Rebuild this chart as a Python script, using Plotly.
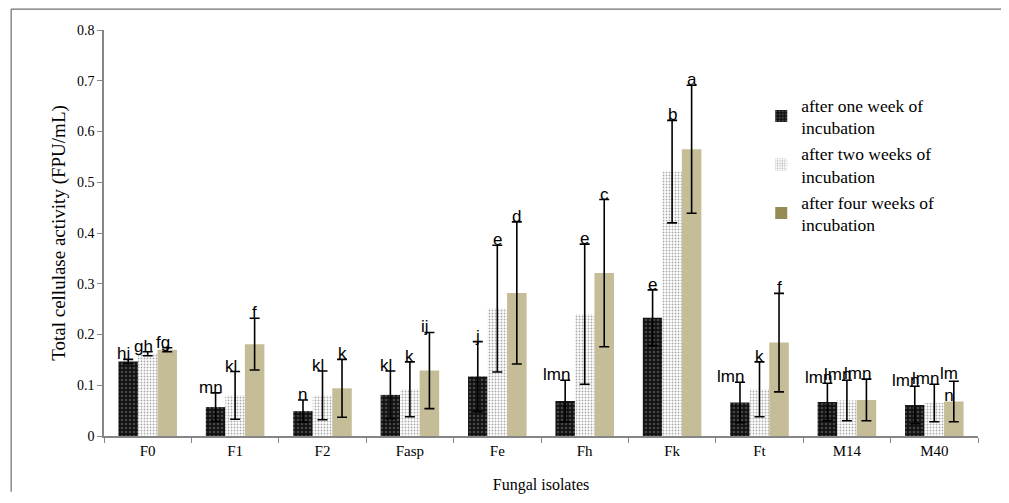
import plotly.graph_objects as go

categories = ["F0", "F1", "F2", "Fasp", "Fe", "Fh", "Fk", "Ft", "M14", "M40"]
series_names = ["after one week of<br>incubation", "after two weeks of<br>incubation", "after four weeks of<br>incubation"]

week1 = [0.147, 0.057, 0.049, 0.081, 0.117, 0.069, 0.233, 0.066, 0.067, 0.061]
week1_err = [0.004, 0.028, 0.022, 0.047, 0.069, 0.041, 0.055, 0.040, 0.037, 0.037]
week1_lbl = ["hi", "mn", "n", "kl", "j", "lmn", "e", "lmn", "lmn", "lmn"]

week2 = [0.162, 0.080, 0.080, 0.092, 0.251, 0.240, 0.521, 0.092, 0.070, 0.065]
week2_err = [0.004, 0.047, 0.048, 0.054, 0.125, 0.138, 0.101, 0.054, 0.040, 0.037]
week2_lbl = ["gh", "kl", "kl", "k", "e", "e", "b", "k", "lmn", "lmn"]

week4 = [0.170, 0.181, 0.094, 0.129, 0.282, 0.321, 0.565, 0.184, 0.071, 0.068]
week4_err = [0.004, 0.051, 0.057, 0.075, 0.140, 0.145, 0.126, 0.097, 0.041, 0.040]
week4_lbl = ["fg", "f", "k", "ij", "d", "c", "a", "f", "lmn", "lm<br>n"]

SERIF = "Liberation Serif, Times New Roman, serif"
SANS = "Liberation Sans, Arial, sans-serif"

patterns = [
    dict(shape=".", bgcolor="#111111", fgcolor="#7a7a7a", size=4, solidity=0.35),
    dict(shape=".", bgcolor="#ffffff", fgcolor="#555555", size=3, solidity=0.3),
    None,
]
colors = ["#111111", "#ffffff", "#C4BD97"]
legend_colors = ["#111111", "#ffffff", "#948A54"]

fig = go.Figure()
data = [(week1, week1_err), (week2, week2_err), (week4, week4_err)]
for i, (vals, errs) in enumerate(data):
    marker = dict(color=colors[i], line=dict(width=0))
    if patterns[i]:
        marker["pattern"] = patterns[i]
    fig.add_trace(go.Bar(
        x=categories, y=vals, name=series_names[i], marker=marker,
        showlegend=False, offsetgroup=str(i),
        error_y=dict(type="data", array=errs, visible=True, color="#000000", thickness=1.6, width=5),
    ))

for i in range(3):
    marker = dict(color=legend_colors[i], line=dict(width=0))
    if patterns[i]:
        marker["pattern"] = patterns[i]
    fig.add_trace(go.Bar(x=[categories[0]], y=[None], name=series_names[i], marker=marker,
                         showlegend=True, offsetgroup=str(i)))

# letter labels above error bars
bargap = 0.33
group_w = 1 - bargap
bar_w = group_w / 3
for i, (vals, errs) in enumerate(data):
    lbls = [week1_lbl, week2_lbl, week4_lbl][i]
    for j, cat in enumerate(categories):
        xoff = -group_w / 2 + bar_w * (i + 0.5)
        lab = lbls[j]
        n = len(lab.split("<br>")[0])
        fig.add_annotation(
            x=j + xoff, y=vals[j] + errs[j], xref="x", yref="y",
            text=lab, showarrow=False, xanchor="center", yanchor="bottom",
            xshift=-(n - 1) * 4.5, yshift=-6 if "<br>" not in lab else -26,
            font=dict(family=SANS, size=17, color="#000000"),
        )

# outer frame (three edges; bottom edge runs off the page)
fx0, fx1 = (12 - 104) / 866, (1003 - 104) / 866
fy0, fy1 = (438 - 494) / 408, (438 - 9) / 408
frame_line = dict(color="#6f6f6f", width=1.2)
for (ax0, ay0, ax1, ay1) in [(fx0, fy1, fx1, fy1), (fx0, fy0, fx0, fy1), (fx1, fy0, fx1, fy1)]:
    fig.add_shape(type="line", xref="paper", yref="paper",
                  x0=ax0, y0=ay0, x1=ax1, y1=ay1, line=frame_line, layer="above")

# page body has an 8px margin, so the figure is sized/offset to compensate
fig.update_layout(
    width=1001, height=495,
    margin=dict(l=96, r=31, t=22, b=57),
    paper_bgcolor="white", plot_bgcolor="white",
    barmode="group", bargap=bargap, bargroupgap=0,
    font=dict(family=SERIF, size=14, color="#000000"),
    legend=dict(x=0.752, y=0.86, xanchor="left", yanchor="top",
                font=dict(family=SERIF, size=17.5, color="#000000"),
                bgcolor="rgba(0,0,0,0)", tracegroupgap=0, itemwidth=30),
    xaxis=dict(
        type="category", range=[-0.5, 9.5],
        showline=True, linecolor="#868686", linewidth=2,
        ticks="outside", tickson="boundaries", ticklen=5, tickcolor="#868686",
        tickfont=dict(family=SERIF, size=15),
        title=dict(text="Fungal isolates", font=dict(family=SERIF, size=16), standoff=21),
        showgrid=False,
    ),
    yaxis=dict(
        range=[0, 0.8], dtick=0.1, tick0=0,
        showline=True, linecolor="#868686", linewidth=1.5,
        ticks="outside", ticklen=5, tickcolor="#868686",
        tickfont=dict(family=SERIF, size=14), tickformat="~g",
        title=dict(text="Total cellulase activity (FPU/mL)", font=dict(family=SERIF, size=19), standoff=6),
        showgrid=False, zeroline=False,
    ),
)

fig.write_html("out.html")
